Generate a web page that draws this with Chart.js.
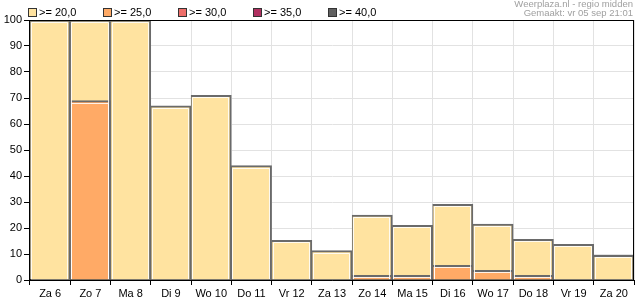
<!DOCTYPE html>
<html><head><meta charset="utf-8">
<script src="https://cdn.jsdelivr.net/npm/chart.js@4/dist/chart.umd.min.js"></script>
<style>html,body{margin:0;padding:0;background:#fff}#w{width:635px;height:300px}</style>
</head><body><div id="w"><canvas id="c"></canvas></div>
<script>
const categories = ["Za 6","Zo 7","Ma 8","Di 9","Wo 10","Do 11","Vr 12","Za 13","Zo 14","Ma 15","Di 16","Wo 17","Do 18","Vr 19","Za 20"];
const ge20 = [100,100,100,67,71,44,15.3,11.3,25,21,29.1,21.5,15.6,13.7,9.5];
const ge25 = [0,69,0,0,0,0,0,0,1.8,1.8,5.6,3.7,1.8,0,0];
const ge30 = [0,0,0,0,0,0,0,0,0,0,0,0,0,0,0];
const ge35 = [0,0,0,0,0,0,0,0,0,0,0,0,0,0,0];
const ge40 = [0,0,0,0,0,0,0,0,0,0,0,0,0,0,0];
const seriesLabels = [">= 20,0",">= 25,0",">= 30,0",">= 35,0",">= 40,0"];
const seriesColors = ["#FFE3A0","#FFAA66","#EE6E6A","#B03060","#606060"];
const yTicks = [0,10,20,30,40,50,60,70,80,90,100];
const headerLines = ["Weerplaza.nl - regio midden","Gemaakt: vr 05 sep 21:01"];

const FONT = "'Liberation Sans', Arial, sans-serif";
const allSeries = [ge20,ge25,ge30,ge35,ge40];

const datasets = allSeries.map((arr,i)=>({
  label: seriesLabels[i],
  data: arr.map(v => v > 0 ? v : null),
  backgroundColor: seriesColors[i],
  borderColor: '#6a6a6a',
  borderWidth: {top:2,left:1,right:2,bottom:0},
  borderSkipped: 'bottom',
  categoryPercentage: 1,
  barPercentage: 1,
  order: 10 - i
}));

const decor = {
  id:'decor',
  afterDatasetsDraw(chart){
    const ctx = chart.ctx;
    ctx.save();
    ctx.strokeStyle = 'rgba(255,255,255,0.85)';
    ctx.lineWidth = 1;
    chart.getSortedVisibleDatasetMetas().slice().reverse().forEach(meta=>{
      meta.data.forEach(el=>{
        if (el.skip || el.y == null || isNaN(el.y)) return;
        const {x,y,width,base} = el.getProps(['x','y','width','base'],true);
        if (base - y < 3) return;
        const l = Math.round(x - width/2) + 1.5, r = Math.round(x + width/2) - 2.5, t = Math.round(y) + 2.5;
        ctx.beginPath();
        ctx.moveTo(l, base); ctx.lineTo(l, t); ctx.lineTo(r, t); ctx.lineTo(r, base);
        ctx.stroke();
      });
    });
    ctx.restore();
  },
  afterDraw(chart){
    const ctx = chart.ctx, a = chart.chartArea;
    ctx.save();
    ctx.strokeStyle = '#000'; ctx.lineWidth = 1;
    ctx.strokeRect(Math.round(a.left)-0.5, Math.round(a.top)+0.5, Math.round(a.right-a.left), Math.round(a.bottom-a.top)-0.5);
    ctx.font = '11px ' + FONT;
    ctx.textBaseline = 'middle';
    chart.data.datasets.forEach((ds,i)=>{
      const bx = 28 + i*75;
      ctx.fillStyle = ds.backgroundColor;
      ctx.fillRect(bx+0.5, 8.5, 8, 8);
      ctx.strokeStyle = '#333';
      ctx.strokeRect(bx+0.5, 8.5, 8, 8);
      ctx.fillStyle = '#000';
      ctx.textAlign = 'left';
      ctx.fillText(ds.label, bx + 11, 13);
    });
    ctx.fillStyle = '#a0a0a0';
    ctx.textAlign = 'right';
    ctx.font = '9.5px ' + FONT;
    ctx.fillText(headerLines[0], 633, 4.5);
    ctx.fillText(headerLines[1], 633, 13.5);
    ctx.restore();
  }
};

new Chart(document.getElementById('c'), {
  type:'bar',
  data:{labels:categories, datasets},
  options:{
    responsive:true, maintainAspectRatio:false, animation:false,
    layout:{padding:{top:20,right:1,left:0,bottom:0}},
    plugins:{legend:{display:false}, tooltip:{enabled:false}},
    scales:{
      x:{
        stacked:true,
        afterFit(s){ s.height = 20; },
        grid:{color:'#e2e2e2', tickColor:'#000', tickLength:5, offset:true},
        border:{color:'#000'},
        ticks:{color:'#000', font:{family:FONT,size:11}, padding:2, maxRotation:0, autoSkip:false}
      },
      y:{
        stacked:false, min:0, max:100,
        afterFit(s){ s.width = 30; },
        afterBuildTicks(s){ s.ticks = yTicks.map(v=>({value:v})); },
        grid:{color:'#e2e2e2', tickColor:'#000', tickLength:6},
        border:{color:'#000'},
        ticks:{color:'#000', font:{family:FONT,size:11}, padding:2}
      }
    }
  },
  plugins:[decor]
});
</script></body></html>
